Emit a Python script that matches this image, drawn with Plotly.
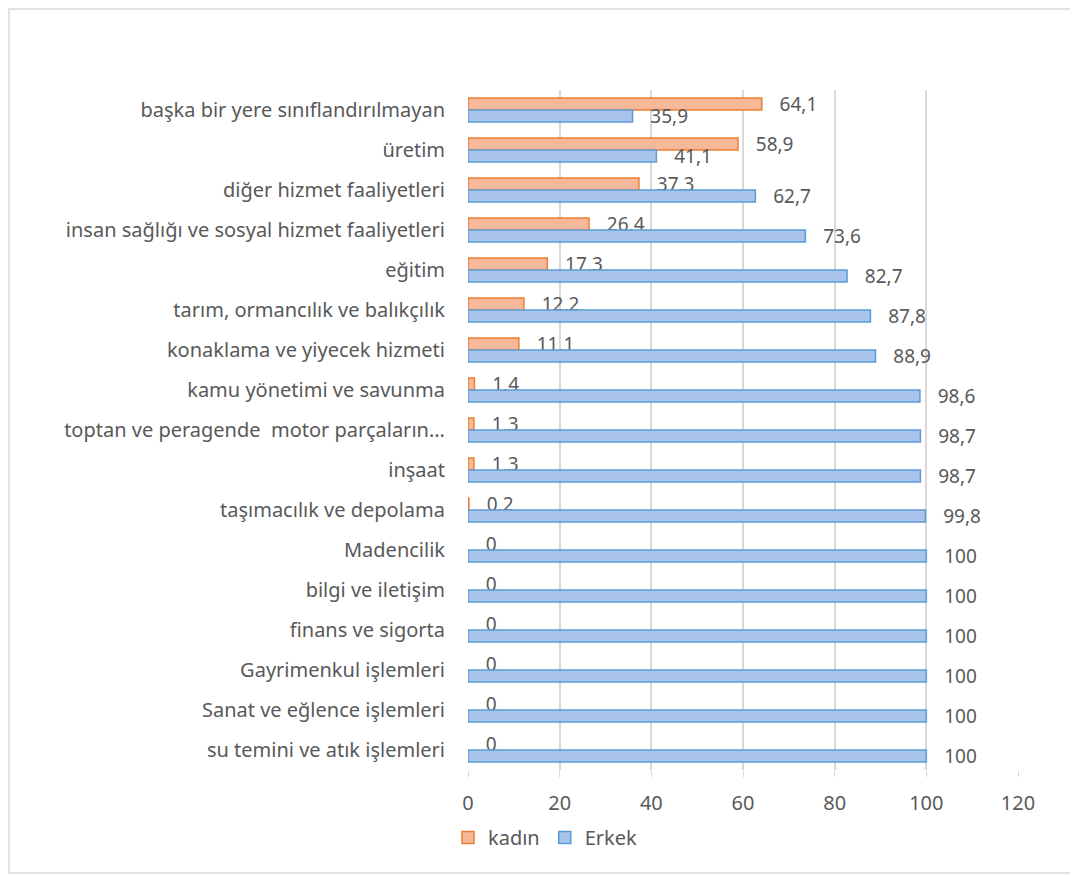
import plotly.graph_objects as go

categories = [
    "başka bir yere sınıflandırılmayan",
    "üretim",
    "diğer hizmet faaliyetleri",
    "insan sağlığı ve sosyal hizmet faaliyetleri",
    "eğitim",
    "tarım, ormancılık ve balıkçılık",
    "konaklama ve yiyecek hizmeti",
    "kamu yönetimi ve savunma",
    "toptan ve peragende \u00a0motor parçaların...",
    "inşaat",
    "taşımacılık ve depolama",
    "Madencilik",
    "bilgi ve iletişim",
    "finans ve sigorta",
    "Gayrimenkul işlemleri",
    "Sanat ve eğlence işlemleri",
    "su temini ve atık işlemleri",
]
kadin = [64.1, 58.9, 37.3, 26.4, 17.3, 12.2, 11.1, 1.4, 1.3, 1.3, 0.2, 0, 0, 0, 0, 0, 0]
erkek = [35.9, 41.1, 62.7, 73.6, 82.7, 87.8, 88.9, 98.6, 98.7, 98.7, 99.8, 100, 100, 100, 100, 100, 100]
x_ticks = [0, 20, 40, 60, 80, 100, 120]


def fmt(v):
    return "\u00a0\u00a0\u00a0" + ("%g" % v).replace(".", ",")


# page body has an 8px margin, so all screen coordinates are shifted by 8
OFF = 8
W, H = 1078 - OFF, 875 - OFF
L, R, T, B = 468 - OFF, 1018 - OFF, 90 - OFF, 770 - OFF

gray = "#595959"
font_family = "Noto Sans, Open Sans, sans-serif"

fig = go.Figure()
fig.add_trace(go.Bar(
    y=categories, x=kadin, orientation="h", name="kadın",
    marker=dict(color="#F7B899",
                line=dict(color="#ED7D31", width=[1.5 if v > 0 else 0 for v in kadin])),
    text=[fmt(v) for v in kadin], textposition="outside", constraintext="none",
    textfont=dict(size=19, color=gray, family=font_family),
    cliponaxis=False,
))
fig.add_trace(go.Bar(
    y=categories, x=erkek, orientation="h", name="Erkek",
    marker=dict(color="#A8C4EA",
                line=dict(color="#5B9BD5", width=[1.5 if v > 0 else 0 for v in erkek])),
    text=[fmt(v) for v in erkek], textposition="outside", constraintext="none",
    textfont=dict(size=19, color=gray, family=font_family),
    cliponaxis=False,
))


def px_x(p):
    return (p - OFF - L) / (R - L)


def px_y(p):
    return (B - (p - OFF)) / (B - T)


fig.update_layout(
    width=W, height=H,
    margin=dict(l=L, r=W - R, t=T, b=H - B, autoexpand=False),
    paper_bgcolor="white", plot_bgcolor="white",
    barmode="group", bargap=0.4, bargroupgap=0,
    font=dict(family=font_family, color=gray, size=20),
    xaxis=dict(
        range=[0, 120], tickvals=x_ticks, showgrid=True, gridcolor="#D9D9D9",
        gridwidth=1.5, zeroline=False, showline=False, ticks="outside",
        ticklen=6, tickcolor="#D9D9D9", tickfont=dict(size=20, color=gray),
        ticklabelstandoff=9,
    ),
    yaxis=dict(
        categoryorder="array", categoryarray=categories, autorange="reversed",
        showgrid=False, zeroline=False, showline=False, ticks="",
        tickfont=dict(size=20, color=gray), ticklabelstandoff=22,
    ),
    showlegend=True,
    legend=dict(
        orientation="h", x=px_x(448), y=px_y(818), xanchor="left", yanchor="top",
        font=dict(size=20, color=gray), itemwidth=30, traceorder="normal",
    ),
    shapes=[dict(
        type="rect", xref="paper", yref="paper",
        x0=px_x(9), x1=px_x(1090), y0=px_y(873), y1=px_y(9),
        line=dict(color="#D9D9D9", width=1.5), fillcolor="rgba(0,0,0,0)",
        layer="below",
    )],
)

fig.write_html("out.html")
